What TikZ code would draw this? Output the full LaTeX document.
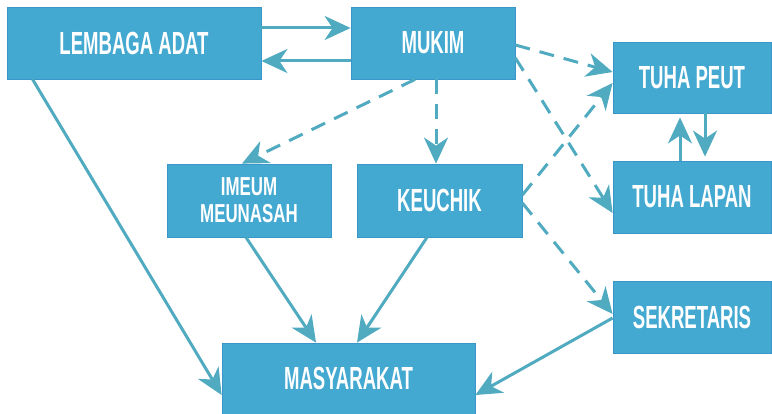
\documentclass[tikz,border=0pt]{standalone}
\usepackage{fontspec}
\newfontfamily\lblfont[FakeStretch=0.58]{Liberation Sans}
\newfontfamily\lblwidefont[FakeStretch=0.65]{Liberation Sans}
\usetikzlibrary{arrows.meta}
\definecolor{boxblue}{RGB}{68,169,209}
\definecolor{boxedge}{RGB}{58,150,200}
\definecolor{arrowteal}{RGB}{80,170,192}
\tikzset{
  unit/.style={rectangle, fill=boxblue, draw=boxedge, line width=0.8pt, text=white, align=center,
    font=\lblfont\bfseries\fontsize{32}{32}\selectfont, inner sep=0pt},
  link/.style={draw=arrowteal, line width=3pt, -{Stealth[length=26pt,width=24pt,inset=8pt]}},
  dlink/.style={link, dash pattern=on 15pt off 10pt},
}
\begin{document}
\begin{tikzpicture}[x=1pt,y=-1pt]
\useasboundingbox (0,0) rectangle (772,414);
\node[unit, minimum width=254pt, minimum height=72pt] (lembaga) at (134,43) {LEMBAGA ADAT};
\node[unit, minimum width=164pt, minimum height=72pt] (mukim) at (433,43) {MUKIM};
\node[unit, minimum width=158pt, minimum height=71pt] (tuhapeut) at (692,77.5) {TUHA PEUT};
\node[unit, minimum width=158pt, minimum height=72pt] (tuhalapan) at (692,197) {TUHA LAPAN};
\node[unit, minimum width=164pt, minimum height=73pt, font=\lblwidefont\bfseries\fontsize{26}{27}\selectfont] (imeum) at (249,200.5) {IMEUM\\MEUNASAH};
\node[unit, minimum width=165pt, minimum height=73pt] (keuchik) at (439.5,200.5) {KEUCHIK};
\node[unit, minimum width=158pt, minimum height=72pt] (sekretaris) at (692,317) {SEKRETARIS};
\node[unit, minimum width=253pt, minimum height=71pt] (masyarakat) at (348.5,378.5) {MASYARAKAT};

\draw[link] ([yshift=15pt]lembaga.east) -- ([yshift=15pt]mukim.west);
\draw[link] ([yshift=-18pt]mukim.west) -- ([yshift=-18pt]lembaga.east);
\draw[link] ([xshift=26pt]lembaga.south west) -- ([yshift=-16.5pt]masyarakat.west);
\draw[dlink] ([xshift=-18pt]mukim.south) -- ([xshift=-7pt]imeum.north);
\draw[dlink] ([xshift=3pt]mukim.south) -- ([xshift=-3.5pt]keuchik.north);
\draw[dlink] ([yshift=-2pt]mukim.east) -- ([yshift=5.5pt]tuhapeut.west);
\draw[dlink] ([yshift=-15pt]mukim.east) -- ([yshift=-16pt]tuhalapan.west);
\draw[dlink] ([yshift=5.5pt]keuchik.east) -- ([yshift=-5.5pt]tuhapeut.west);
\draw[dlink] ([yshift=-2.5pt]keuchik.east) -- ([yshift=3pt]sekretaris.west);
\draw[link] ([yshift=-1pt]sekretaris.west) -- ([yshift=-16.5pt]masyarakat.east);
\draw[link] ([xshift=-3pt]imeum.south) -- ([xshift=-32.5pt]masyarakat.north);
\draw[link] ([xshift=-12.5pt]keuchik.south) -- ([xshift=8.5pt]masyarakat.north);
\draw[link, shorten >=4pt] ([xshift=-12pt]tuhalapan.north) -- ([xshift=-12pt]tuhapeut.south);
\draw[link, shorten >=4pt] ([xshift=13pt]tuhapeut.south) -- ([xshift=13pt]tuhalapan.north);
\end{tikzpicture}
\end{document}
